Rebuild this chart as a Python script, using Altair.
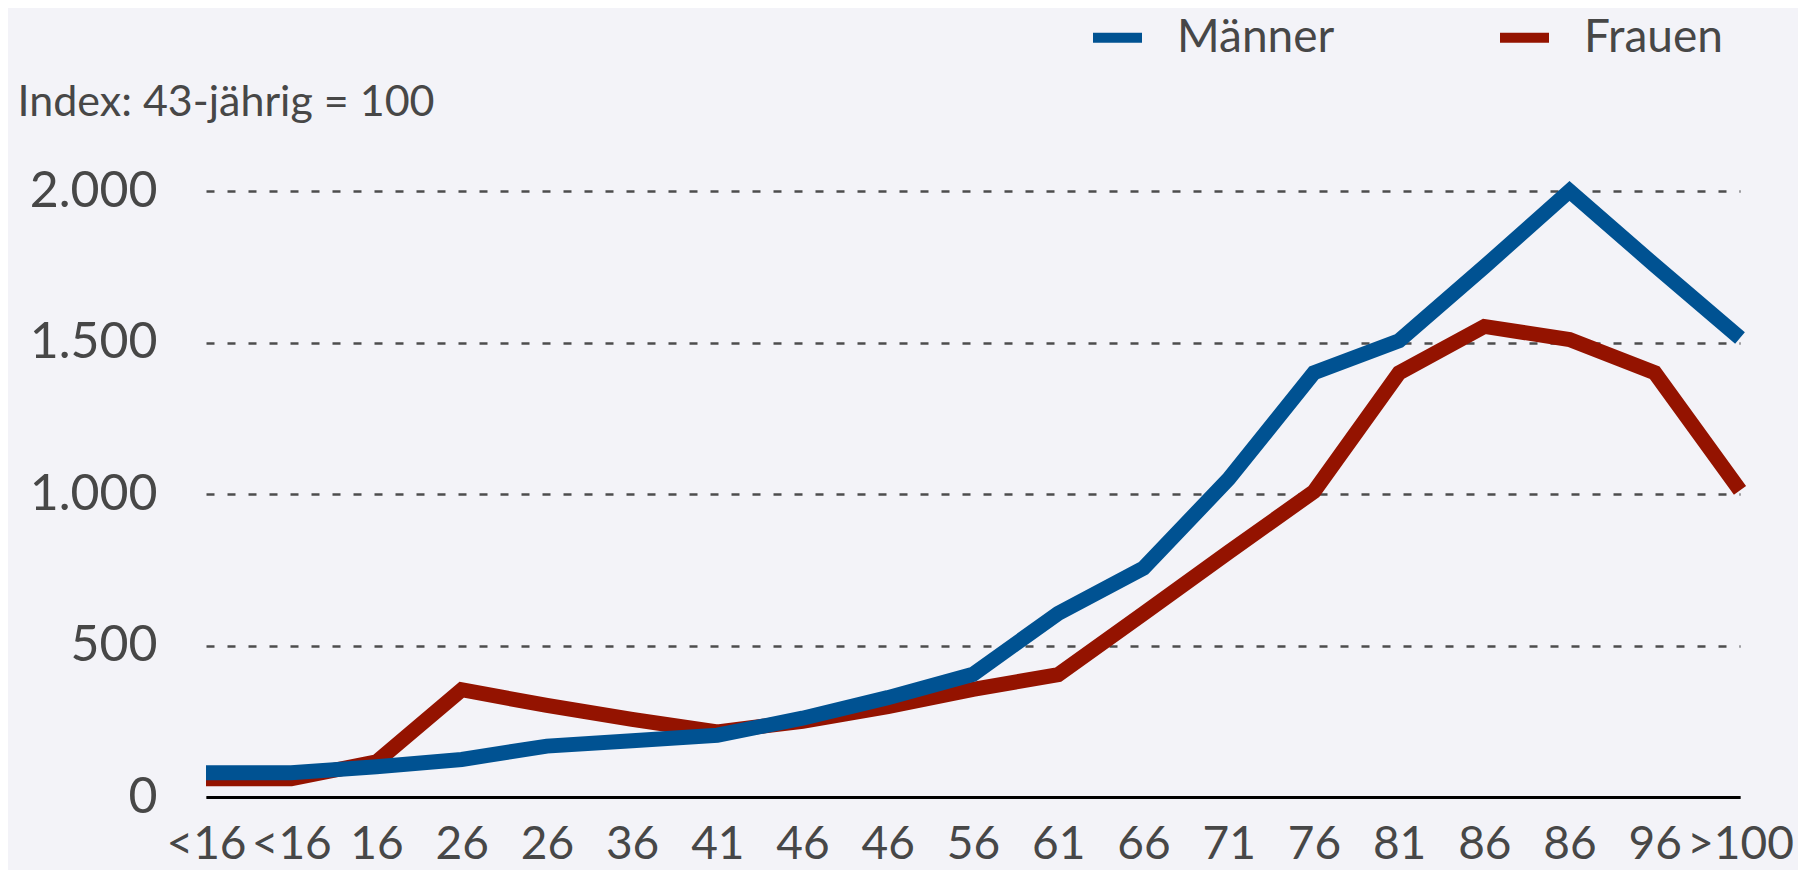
import json
import altair as alt
import pandas as pd

labels = ["<16", "<16", "16", "26", "26", "36", "41", "46", "46", "56",
          "61", "66", "71", "76", "81", "86", "86", "96", ">100"]
maenner = [80, 80, 100, 124, 168, 186, 204, 260, 328, 405,
           606, 755, 1050, 1400, 1506, 1750, 2000, 1755, 1515]
frauen = [60, 60, 116, 354, 302, 256, 215, 250, 298, 355,
          404, 605, 808, 1008, 1400, 1553, 1510, 1400, 1012]
series = ["Männer", "Frauen"]
colors = ["#005292", "#941300"]
y_ticks = [0, 500, 1000, 1500, 2000]

rows = []
for i, v in enumerate(frauen):
    rows.append({"i": i, "wert": v, "geschlecht": "Frauen"})
for i, v in enumerate(maenner):
    rows.append({"i": i, "wert": v, "geschlecht": "Männer"})
df = pd.DataFrame(rows)

FONT = "Lato"
TXT = "#474747"

chart = alt.Chart(df).mark_line(strokeWidth=15, strokeJoin="miter").encode(
    x=alt.X(
        "i:Q",
        scale=alt.Scale(domain=[0, len(labels) - 1], nice=False, zero=False),
        axis=alt.Axis(
            values=list(range(len(labels))),
            labelExpr=json.dumps(labels) + "[datum.value]",
            title=None,
            grid=False,
            ticks=False,
            domain=True,
            domainColor="#000000",
            domainWidth=3,
            labelFont=FONT,
            labelFontSize=46,
            labelColor=TXT,
            labelPadding=25,
            labelAngle=0,
            labelOverlap=False,
            labelFlush=False,
        ),
    ),
    y=alt.Y(
        "wert:Q",
        scale=alt.Scale(domain=[0, 2000], nice=False),
        axis=alt.Axis(
            values=y_ticks,
            labelExpr="replace(format(datum.value, ','), ',', '.')",
            title="Index: 43-jährig = 100",
            titleFont=FONT,
            titleFontSize=43,
            titleFontWeight="normal",
            titleColor=TXT,
            titleAngle=0,
            titleAlign="left",
            titleBaseline="alphabetic",
            titleX=-189,
            titleY=-76,
            domain=False,
            ticks=False,
            grid=True,
            gridDash=[8, 13],
            gridColor="#4d4d4d",
            gridWidth=2.5,
            labelFont=FONT,
            labelFontSize=50,
            labelColor=TXT,
            labelPadding=49,
        ),
    ),
    color=alt.Color(
        "geschlecht:N",
        scale=alt.Scale(domain=series, range=colors),
        legend=alt.Legend(
            title=None,
            orient="none",
            direction="horizontal",
            legendX=882,
            legendY=-183,
            symbolType="stroke",
            symbolSize=2401,
            symbolStrokeWidth=10,
            labelFont=FONT,
            labelFontSize=46,
            labelColor=TXT,
            labelOffset=30,
            labelLimit=400,
            columnPadding=145,
            padding=0,
        ),
    ),
).properties(
    width=1534,
    height=606,
    autosize=alt.AutoSizeParams(type="none"),
    padding={"left": 198, "top": 183, "right": 58, "bottom": 73},
    background="#F3F3F8",
).configure_view(stroke=None)

chart.save("out.html", embed_options={"renderer": "svg", "actions": False})
